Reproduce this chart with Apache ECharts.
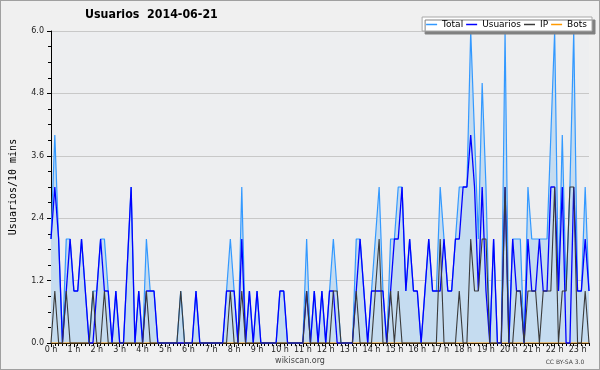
<!DOCTYPE html>
<html><head><meta charset="utf-8">
<script src="https://cdn.jsdelivr.net/npm/echarts@6/dist/echarts.min.js"></script>
<style>
html,body{margin:0;padding:0;background:#f0f0f0;}
#wrap{position:relative;width:600px;height:370px;}
#c{position:absolute;left:0;top:0;width:600px;height:370px;}
#frame{position:absolute;left:0;top:0;width:600px;height:370px;box-sizing:border-box;border:1px solid #a0a0a0;pointer-events:none;}
</style></head><body>
<div id="wrap"><div id="c"></div><div id="frame"></div></div>
<script>
const chartTitle = 'Usuarios  2014-06-21';
const yName = 'Usuarios/10 mins';
const slotMinutes = 10;
const hourSuffix = ' h';
const yTicks = [0, 1.2, 2.4, 3.6, 4.8, 6.0];

const total = [
  2,4,2,0,2,2,1,1,2,1,
  0,1,1,2,2,1,0,1,0,0,
  1.5,3,0,1,0,2,1,1,0,0,
  0,0,0,0,1,0,0,0,1,0,
  0,0,0,0,0,0,1,2,1,0,
  3,0,1,0,1,0,0,0,0,0,
  1,1,0,0,0,0,0,2,0,1,
  0,1,0,1,2,1,0,0,0,0,
  2,2,1,0,1,2,3,1,0,2,
  2,3,3,1,2,1,1,0,1,2,
  1,1,3,2,1,1,2,3,3,3,
  6,4,2,5,3,0,2,0,0,6,
  0,2,2,2,0,3,2,2,2,2,
  2,4,6,1,4,1,3,6,1,1,
  3,1
];
const usuarios = [
  2,3,2,0,1,2,1,1,2,1,
  0,0,1,2,1,1,0,1,0,0,
  1.5,3,0,1,0,1,1,1,0,0,
  0,0,0,0,0,0,0,0,1,0,
  0,0,0,0,0,0,1,1,1,0,
  2,0,1,0,1,0,0,0,0,0,
  1,1,0,0,0,0,0,1,0,1,
  0,1,0,1,1,0,0,0,0,0,
  1,2,1,0,1,1,1,1,0,1,
  2,2,3,1,2,1,1,0,1,2,
  1,1,1,2,1,1,2,2,3,3,
  4,3,1,3,1,0,2,0,0,3,
  0,2,1,1,0,2,1,1,2,1,
  1,3,3,1,3,0,0,3,1,1,
  2,1
];
const ip = [
  0,1,0,0,1,0,0,0,0,0,
  0,1,0,0,1,0,0,0,0,0,
  0,0,0,0,0,1,0,0,0,0,
  0,0,0,0,1,0,0,0,0,0,
  0,0,0,0,0,0,0,1,0,0,
  1,0,0,0,0,0,0,0,0,0,
  0,0,0,0,0,0,0,1,0,0,
  0,0,0,0,1,1,0,0,0,0,
  1,0,0,0,0,1,2,0,0,1,
  0,1,0,0,0,0,0,0,0,0,
  0,0,2,0,0,0,0,1,0,0,
  2,1,1,2,2,0,0,0,0,3,
  0,0,1,1,0,1,1,1,0,1,
  1,1,3,0,1,1,3,3,0,0,
  1,0
];
const bots = [
  0,0,0,0,0,0,0,0,0,0, 0,0,0,0,0,0,0,0,0,0,
  0,0,0,0,0,0,0,0,0,0, 0,0,0,0,0,0,0,0,0,0,
  0,0,0,0,0,0,0,0,0,0, 0,0,0,0,0,0,0,0,0,0,
  0,0,0,0,0,0,0,0,0,0, 0,0,0,0,0,0,0,0,0,0,
  0,0,0,0,0,0,0,0,0,0, 0,0,0,0,0,0,0,0,0,0,
  0,0,0,0,0,0,0,0,0,0, 0,0,0,0,0,0,0,0,0,0,
  0,0,0,0,0,0,0,0,0,0, 0,0,0,0,0,0,0,0,0,0,
  0,0
];

const toPts = arr => arr.map((v, i) => [i * slotMinutes / 60, v]);
const lastHour = (total.length - 1) * slotMinutes / 60;

const chart = echarts.init(document.getElementById('c'), null, {renderer: 'canvas'});
const sans = 'DejaVu Sans';
chart.setOption({
  animation: false,
  backgroundColor: 'transparent',
  title: {
    text: chartTitle, left: 85, top: 9, padding: 0,
    textStyle: {fontFamily: '"DejaVu Sans Condensed", "DejaVu Sans"', fontWeight: 'bold', fontSize: 12.3, color: '#000'}
  },
  legend: {
    data: ['Total', 'Usuarios', 'IP', 'Bots'],
    right: 8, top: 17, icon: 'rect', itemWidth: 11, itemHeight: 1.5, itemGap: 3,
    padding: [3, 5, 2, 4],
    backgroundColor: '#ffffff', borderColor: '#a8a8a8', borderWidth: 1,
    shadowColor: '#808080', shadowOffsetX: 3, shadowOffsetY: 3, shadowBlur: 0,
    textStyle: {fontFamily: sans, fontSize: 9, color: '#000'}
  },
  grid: {left: 46, top: 31, width: 543, height: 312, show: true, backgroundColor: '#edeef0', borderWidth: 0},
  xAxis: [
    {
      type: 'value', min: 0, max: lastHour, interval: 1,
      axisLine: {onZero: false, lineStyle: {color: '#000', width: 1}},
      axisTick: {length: 4, lineStyle: {color: '#000'}},
      splitLine: {show: false},
      axisLabel: {
        formatter: v => (Math.abs(v - Math.round(v)) < 1e-6 ? Math.round(v) + hourSuffix : ''),
        fontFamily: sans, fontSize: 8, color: '#222', margin: 3, showMaxLabel: false
      }
    },
    {
      type: 'value', min: 0, max: lastHour, interval: slotMinutes / 60, position: 'bottom',
      axisLine: {show: false, onZero: false},
      axisTick: {length: 3, lineStyle: {color: '#000'}},
      axisLabel: {show: false}, splitLine: {show: false}
    }
  ],
  yAxis: {
    type: 'value', min: yTicks[0], max: yTicks[yTicks.length - 1], interval: yTicks[1] - yTicks[0],
    name: yName, nameLocation: 'middle', nameRotate: 90, nameGap: 33,
    nameTextStyle: {fontFamily: 'DejaVu Sans Mono', fontSize: 10, color: '#000'},
    axisLine: {show: true, lineStyle: {color: '#000', width: 1}},
    axisTick: {show: true, length: 4, lineStyle: {color: '#000'}},
    minorTick: {show: true, splitNumber: 4, length: 3, lineStyle: {color: '#000'}},
    splitLine: {lineStyle: {color: '#c8c8c8', width: 1}},
    axisLabel: {formatter: v => v.toFixed(1), fontFamily: sans, fontSize: 8, color: '#222', margin: 7}
  },
  series: [
    {name: 'Bots', type: 'line', data: toPts(bots), color: '#ff9900', showSymbol: false, lineStyle: {width: 1}},
    {name: 'Total', type: 'line', data: toPts(total), color: '#3399ff', showSymbol: false,
      lineStyle: {width: 1.2}, areaStyle: {color: '#c5dcf0', opacity: 1}},
    {name: 'Usuarios', type: 'line', data: toPts(usuarios), color: '#0000ff', showSymbol: false, lineStyle: {width: 1.3}},
    {name: 'IP', type: 'line', data: toPts(ip), color: '#3a3a3a', showSymbol: false, lineStyle: {width: 1.1}}
  ],
  graphic: [
    {type: 'text', x: 300, y: 361, style: {text: 'wikiscan.org', font: '8px "DejaVu Sans"', fill: '#444', align: 'center', verticalAlign: 'middle', textAlign: 'center', textVerticalAlign: 'middle'}},
    {type: 'text', x: 565, y: 362, style: {text: 'CC BY-SA 3.0', font: '6px "DejaVu Sans"', fill: '#444', align: 'center', verticalAlign: 'middle', textAlign: 'center', textVerticalAlign: 'middle'}}
  ]
});
</script>
</body></html>
